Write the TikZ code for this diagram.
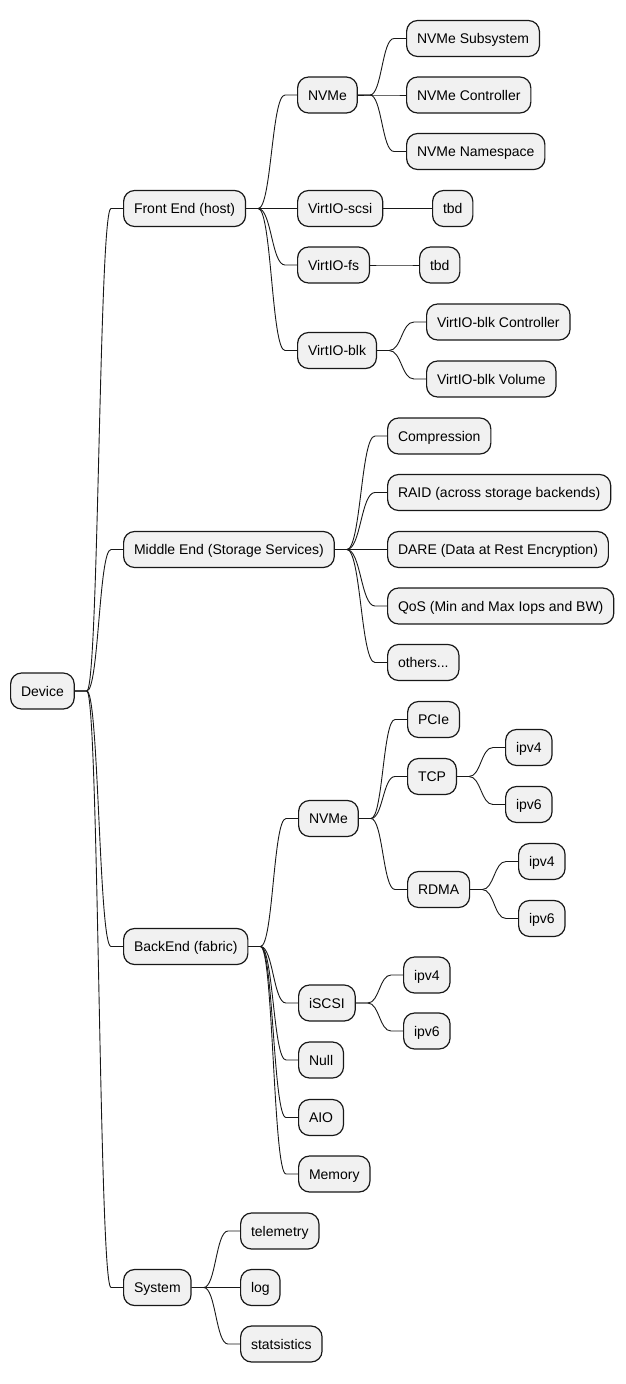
\documentclass[tikz,border=0pt]{standalone}
\usepackage{fontspec}
\setmainfont{Liberation Sans}
\usetikzlibrary{calc}
\definecolor{nodefill}{HTML}{F1F1F1}
\definecolor{nodeline}{HTML}{181818}
\tikzset{
  mmnode/.style={draw=nodeline, fill=nodefill, line width=1.2pt,
    rounded corners=11pt, minimum height=36pt, inner xsep=10.4pt,
    inner ysep=0pt, text height=10pt, text depth=0pt,
    anchor=west, text=black,
    font=\fontsize{14}{16}\selectfont},
  mmline/.style={draw=nodeline, line width=0.9pt}
}
% branch: short stub, S-curve, short stub into the child
\newcommand\mmlink[2]{%
  \draw[mmline] let \p1=(#1.east), \p2=(#2.west) in
    (\p1) -- ({\x1+12pt},\y1)
    .. controls ({0.5*\x1+0.5*\x2},\y1) and ({0.5*\x1+0.5*\x2},\y2) ..
    ({\x2-12pt},\y2) -- (\p2);}
\begin{document}
\begin{tikzpicture}[x=1pt,y=-1pt]
\useasboundingbox (0,0) rectangle (626,1384);

% root and first level
\node[mmnode] (dev) at (10,691) {Device};
\node[mmnode] (fe)  at (123,208.5) {Front End (host)};
\node[mmnode] (me)  at (123,549.5) {Middle End (Storage Services)};
\node[mmnode] (be)  at (123,946.5) {BackEnd (fabric)};
\node[mmnode] (sys) at (123,1287.5) {System};

% front end
\node[mmnode] (fnvme) at (297,95) {NVMe};
\node[mmnode] (fscsi) at (297,208.5) {VirtIO-scsi};
\node[mmnode] (ffs)   at (297,265) {VirtIO-fs};
\node[mmnode] (fblk)  at (297,350.5) {VirtIO-blk};
\node[mmnode] (fsub)  at (406,38.5) {NVMe Subsystem};
\node[mmnode] (fctl)  at (406,95) {NVMe Controller};
\node[mmnode] (fns)   at (406,151.5) {NVMe Namespace};
\node[mmnode] (ftbda) at (432,208.5) {tbd};
\node[mmnode] (ftbdb) at (419,265) {tbd};
\node[mmnode] (fbctl) at (426,322) {VirtIO-blk Controller};
\node[mmnode] (fbvol) at (426,379) {VirtIO-blk Volume};

% middle end
\node[mmnode] (mcomp) at (387,436) {Compression};
\node[mmnode] (mraid) at (387,492.5) {RAID (across storage backends)};
\node[mmnode] (mdare) at (387,549.5) {DARE (Data at Rest Encryption)};
\node[mmnode] (mqos)  at (387,606) {QoS (Min and Max Iops and BW)};
\node[mmnode] (moth)  at (387,662.5) {others...};

% back end
\node[mmnode] (bnvme)  at (298,818.5) {NVMe};
\node[mmnode] (biscsi) at (298,1003) {iSCSI};
\node[mmnode] (bnull)  at (298,1060) {Null};
\node[mmnode] (baio)   at (298,1117.5) {AIO};
\node[mmnode] (bmem)   at (298,1174) {Memory};
\node[mmnode] (pcie)   at (407,719.5) {PCIe};
\node[mmnode] (tcp)    at (407,776.5) {TCP};
\node[mmnode] (rdma)   at (407,889.5) {RDMA};
\node[mmnode] (t4)     at (505,747.5) {ipv4};
\node[mmnode] (t6)     at (505,804.5) {ipv6};
\node[mmnode] (r4)     at (518,861.5) {ipv4};
\node[mmnode] (r6)     at (518,918.5) {ipv6};
\node[mmnode] (i4)     at (403,975) {ipv4};
\node[mmnode] (i6)     at (403,1031) {ipv6};

% system
\node[mmnode] (stel)  at (240,1231) {telemetry};
\node[mmnode] (slog)  at (240,1287.5) {log};
\node[mmnode] (sstat) at (240,1344) {statsistics};

% branches
\foreach \a/\b in {dev/fe, dev/me, dev/be, dev/sys,
  fe/fnvme, fe/fscsi, fe/ffs, fe/fblk,
  fnvme/fsub, fnvme/fctl, fnvme/fns, fscsi/ftbda, ffs/ftbdb,
  fblk/fbctl, fblk/fbvol,
  me/mcomp, me/mraid, me/mdare, me/mqos, me/moth,
  be/bnvme, be/biscsi, be/bnull, be/baio, be/bmem,
  bnvme/pcie, bnvme/tcp, bnvme/rdma, tcp/t4, tcp/t6, rdma/r4, rdma/r6,
  biscsi/i4, biscsi/i6,
  sys/stel, sys/slog, sys/sstat}
  {\mmlink{\a}{\b}}
\end{tikzpicture}
\end{document}
